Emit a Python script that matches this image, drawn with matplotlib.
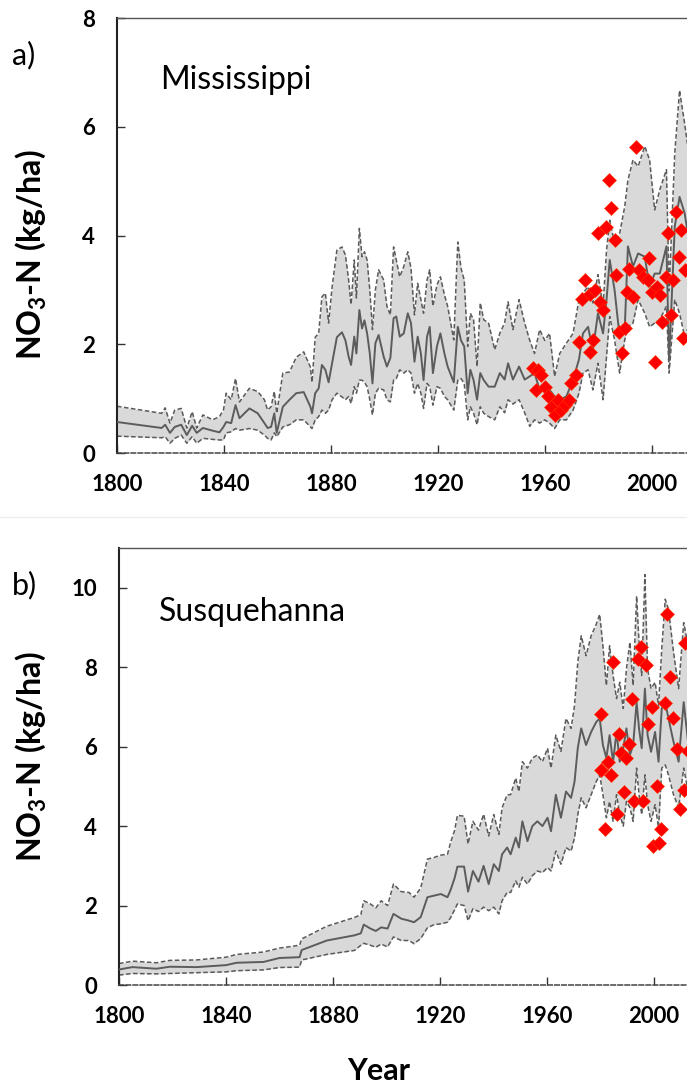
import matplotlib
matplotlib.use("Agg")
import matplotlib.pyplot as plt
from matplotlib.lines import Line2D

plt.rcParams['font.family'] = ['Lato', 'DejaVu Sans']
plt.rcParams['mathtext.fontset'] = 'custom'
plt.rcParams['mathtext.rm'] = 'Lato:bold'
plt.rcParams['mathtext.bf'] = 'Lato:bold'

W, H = 687, 1084

# a) Mississippi, modelled NO3-N (lower / mean / upper band)
miss_year = [1800, 1816.7, 1818, 1819.8, 1821.6, 1824, 1826.1, 1828.1, 1829.8, 1832.1,
             1835.8, 1838.3, 1839.8, 1840.8, 1842.7, 1844.3, 1845.8, 1849.5, 1852.6, 1855.1,
             1856.3, 1857.6, 1858.8, 1859.7, 1862, 1864.5, 1867, 1869.8, 1872.3, 1872.9,
             1874.1, 1875.4, 1876.6, 1877.9, 1879.1, 1880.4, 1882.2, 1884.1, 1885.4, 1886.6,
             1887.5, 1888.7, 1889.5, 1890.6, 1891.6, 1892.5, 1893.5, 1894.5, 1895.5, 1896.6,
             1897.8, 1899.7, 1900.9, 1902.2, 1903.4, 1904.4, 1905.7, 1907.2, 1908.7, 1909.9,
             1911.2, 1912.4, 1913.6, 1914.6, 1915.9, 1916.9, 1918.1, 1919.6, 1920.9, 1922.4,
             1923.6, 1925.9, 1927.4, 1928.6, 1929.8, 1931.1, 1932.1, 1933.3, 1934.6, 1935.8,
             1937.1, 1938.9, 1941.2, 1943.1, 1944.9, 1946.2, 1948, 1950.3, 1952.4, 1954.3,
             1956.1, 1958, 1959.9, 1961.7, 1963.6, 1965.5, 1968, 1970.5, 1972.7, 1974.2,
             1976.1, 1977.9, 1979.8, 1981.7, 1983, 1984.2, 1986, 1987.9, 1989.8, 1991,
             1992.9, 1994.8, 1997.3, 1999.1, 2001, 2002.9, 2005.4, 2006.4, 2008.5, 2010.3,
             2012.2, 2013.5]
miss_low = [0.31, 0.28, 0.30, 0.18, 0.27, 0.33, 0.18, 0.30, 0.18, 0.27,
            0.25, 0.24, 0.24, 0.37, 0.39, 0.45, 0.42, 0.45, 0.42, 0.33,
            0.27, 0.24, 0.37, 0.30, 0.48, 0.52, 0.61, 0.61, 0.48, 0.45,
            0.61, 0.67, 0.79, 0.73, 0.79, 0.98, 1.10, 1.03, 0.98, 1.04,
            0.91, 1.22, 1.10, 1.34, 1.34, 1.30, 1.22, 0.98, 0.70, 1.10,
            1.19, 1.16, 0.98, 0.94, 1.34, 1.37, 1.53, 1.47, 1.53, 1.47,
            1.10, 1.28, 1.10, 0.82, 1.28, 1.22, 0.88, 1.22, 1.19, 1.04,
            0.98, 0.79, 1.34, 1.37, 1.28, 0.61, 0.85, 0.73, 0.52, 0.85,
            0.73, 0.67, 0.61, 0.85, 0.74, 0.98, 0.90, 0.98, 0.74, 0.49,
            0.61, 0.55, 0.61, 0.55, 0.45, 0.61, 0.61, 0.79, 1.10, 1.47,
            1.53, 1.16, 1.65, 0.98, 1.77, 2.51, 2.08, 1.47, 2.08, 2.32,
            2.39, 2.82, 2.57, 2.32, 2.39, 2.45, 2.70, 1.47, 2.82, 2.57,
            2.14, 2.30]
miss_mean = [0.57, 0.46, 0.52, 0.37, 0.48, 0.52, 0.33, 0.50, 0.37, 0.46,
             0.41, 0.38, 0.48, 0.57, 0.55, 0.88, 0.64, 0.82, 0.73, 0.55,
             0.46, 0.48, 0.73, 0.37, 0.85, 0.98, 1.10, 1.12, 0.85, 0.73,
             1.10, 1.19, 1.62, 1.53, 1.30, 1.65, 2.13, 2.22, 2.07, 1.77,
             1.62, 2.14, 1.83, 2.63, 2.29, 2.44, 2.20, 1.83, 1.28, 2.02,
             2.17, 1.77, 1.59, 1.75, 2.48, 2.51, 2.14, 2.20, 2.57, 2.39,
             1.68, 2.14, 1.83, 1.34, 2.14, 2.32, 1.47, 1.96, 2.20, 1.83,
             1.59, 1.30, 2.32, 2.07, 1.96, 1.10, 1.53, 1.34, 0.98, 1.47,
             1.34, 1.22, 1.22, 1.47, 1.35, 1.65, 1.35, 1.59, 1.35, 1.41,
             1.47, 1.16, 1.28, 1.16, 1.04, 0.98, 1.04, 1.35, 1.72, 2.20,
             2.32, 1.89, 2.57, 2.20, 2.82, 3.55, 3.00, 2.14, 2.27, 3.80,
             3.43, 3.67, 3.61, 3.06, 3.30, 3.30, 3.80, 1.70, 4.16, 4.71,
             4.41, 4.00]
miss_up = [0.86, 0.73, 0.83, 0.55, 0.79, 0.82, 0.46, 0.76, 0.46, 0.70,
           0.61, 0.67, 0.79, 1.10, 0.98, 1.37, 0.94, 1.19, 1.13, 0.98,
           0.79, 0.85, 1.13, 0.73, 1.47, 1.49, 1.76, 1.86, 1.58, 1.30,
           2.13, 2.20, 2.87, 2.94, 2.39, 3.05, 3.73, 3.79, 3.64, 3.18,
           2.73, 3.55, 2.85, 4.13, 3.61, 3.70, 3.55, 3.00, 2.27, 3.00,
           3.37, 3.18, 2.70, 2.54, 3.79, 3.55, 3.24, 3.43, 3.70, 3.40,
           2.54, 3.12, 2.82, 2.57, 3.18, 3.37, 2.70, 3.09, 3.24, 2.91,
           2.70, 2.08, 3.88, 3.40, 3.18, 1.96, 2.57, 2.45, 1.59, 2.76,
           2.45, 2.39, 1.90, 2.20, 2.39, 2.78, 2.27, 2.82, 2.39, 2.07,
           1.83, 2.27, 2.07, 2.20, 1.41, 1.83, 2.02, 2.20, 2.82, 2.94,
           3.06, 2.76, 3.28, 2.70, 3.73, 4.28, 3.86, 4.04, 4.53, 5.02,
           5.39, 5.27, 5.64, 5.39, 4.47, 4.84, 5.21, 2.98, 5.51, 6.67,
           6.06, 5.60]
miss_obs_year = [1955.5, 1957.4, 1958.6, 1956.8, 1959.9, 1961.1, 1962.4, 1963.6, 1964.9, 1966.1,
                 1967.4, 1969.0, 1969.8, 1971.7, 1972.7, 1974.0, 1974.8, 1976.7, 1978.6, 1977.0,
                 1977.9, 1980.4, 1981.7, 1979.8, 1982.9, 1983.9, 1984.8, 1986.0, 1986.7, 1987.7,
                 1989.8, 1988.9, 1990.7, 1991.4, 1992.9, 1993.9, 1995.1, 1996.6, 1998.5, 1998.9,
                 2000.1, 2001.9, 2002.9, 2001.0, 2003.9, 2005.1, 2006.0, 2007.2, 2007.9, 2009.1,
                 2010.1, 2011.0, 2011.6, 2012.2]
miss_obs = [1.56, 1.53, 1.44, 1.16, 1.22, 1.04, 0.85, 0.70, 0.98, 0.79,
            0.88, 0.98, 1.28, 1.44, 2.05, 2.84, 3.18, 2.93, 2.99, 1.86,
            2.08, 2.78, 2.63, 4.04, 4.16, 5.02, 4.50, 3.92, 3.28, 2.23,
            2.29, 1.83, 2.96, 3.39, 2.87, 5.63, 3.36, 3.24, 3.18, 3.58,
            2.96, 3.05, 2.90, 1.68, 2.41, 3.24, 4.04, 2.53, 3.18, 4.43,
            3.61, 4.10, 2.11, 3.36]

# b) Susquehanna
susq_year = [1800, 1805, 1814, 1819, 1829, 1840, 1844, 1854, 1860, 1867.5,
             1868.3, 1877.7, 1888, 1890.4, 1891.5, 1894, 1896, 1898, 1900.4, 1902.6,
             1905.5, 1908.4, 1910.3, 1912.8, 1915.3, 1917.8, 1920.3, 1922.8, 1924, 1925.5,
             1926.5, 1929, 1930.5, 1932.3, 1934.4, 1936.3, 1938.2, 1940.1, 1942, 1943.2,
             1945.1, 1946.4, 1948.3, 1949.5, 1950.8, 1952.7, 1954.5, 1956.4, 1958.3, 1960.2,
             1961.5, 1963.3, 1965.2, 1967.1, 1969, 1970.3, 1971.5, 1972.8, 1974.6, 1976.5,
             1978.4, 1979.7, 1980.9, 1982.2, 1983.4, 1984.7, 1986, 1987.2, 1988.5, 1989.7,
             1991, 1992.2, 1993.5, 1994.4, 1995.4, 1996.6, 1997.6, 1998.9, 2000.4, 2001.7,
             2002.9, 2004.2, 2005.4, 2007.3, 2009.2, 2011.1, 2013]
susq_low = [0.25, 0.29, 0.28, 0.29, 0.31, 0.33, 0.36, 0.38, 0.44, 0.45,
            0.63, 0.77, 0.87, 1.00, 1.05, 1.00, 0.95, 1.03, 0.96, 1.21,
            1.12, 1.12, 1.04, 1.17, 1.44, 1.52, 1.54, 1.58, 1.70, 1.90,
            2.04, 2.00, 1.62, 1.92, 1.85, 1.96, 1.87, 1.96, 1.79, 2.12,
            2.33, 2.33, 2.62, 2.46, 2.71, 2.54, 2.75, 2.87, 2.83, 2.96,
            2.87, 3.37, 3.04, 3.46, 3.37, 3.71, 4.29, 4.71, 4.46, 4.79,
            5.12, 5.29, 4.79, 4.21, 4.62, 4.12, 4.79, 4.29, 4.00, 4.62,
            4.46, 4.12, 5.46, 4.79, 4.29, 5.29, 4.54, 4.12, 4.54, 3.96,
            5.46, 5.54, 5.29, 4.79, 4.46, 5.46, 4.79]
susq_mean = [0.39, 0.45, 0.41, 0.46, 0.45, 0.50, 0.56, 0.58, 0.68, 0.70,
             0.88, 1.12, 1.25, 1.30, 1.52, 1.42, 1.36, 1.45, 1.42, 1.79,
             1.67, 1.62, 1.58, 1.71, 2.21, 2.25, 2.29, 2.21, 2.40, 2.70,
             2.98, 2.98, 2.35, 2.87, 2.60, 3.00, 2.54, 3.04, 2.87, 3.29,
             3.46, 3.29, 3.71, 3.46, 4.12, 3.62, 4.00, 4.12, 4.00, 4.21,
             3.87, 4.79, 4.21, 4.87, 4.71, 5.12, 5.96, 6.46, 6.04, 6.37,
             6.62, 6.71, 6.04, 5.71, 6.29, 5.62, 6.37, 5.62, 5.96, 6.46,
             5.79, 6.04, 7.12, 6.46, 5.96, 7.46, 6.29, 5.87, 6.37, 5.62,
             6.96, 7.12, 6.71, 6.12, 5.62, 7.12, 5.96]
susq_up = [0.54, 0.60, 0.56, 0.62, 0.63, 0.70, 0.77, 0.83, 0.93, 1.00,
           1.16, 1.48, 1.70, 1.77, 2.12, 2.04, 1.94, 2.12, 2.00, 2.54,
           2.35, 2.33, 2.21, 2.44, 3.17, 3.21, 3.27, 3.29, 3.60, 3.90,
           4.27, 4.25, 3.55, 4.12, 3.90, 4.30, 3.75, 4.29, 3.79, 4.46,
           4.79, 4.79, 5.21, 4.87, 5.62, 5.46, 5.71, 5.79, 5.62, 5.96,
           5.46, 6.29, 5.88, 6.71, 6.46, 7.04, 8.12, 8.79, 8.29, 8.79,
           9.08, 9.33, 8.54, 7.54, 8.54, 7.79, 7.21, 7.62, 6.96, 7.96,
           8.63, 7.54, 9.79, 8.63, 7.79, 10.33, 7.96, 7.46, 7.62, 7.04,
           8.46, 9.71, 9.46, 8.38, 7.46, 9.12, 8.46]
susq_obs_year = [1980.1, 1980.3, 1981.6, 1982.8, 1983.8, 1984.7, 1986.0, 1986.8, 1987.8, 1988.8,
                 1989.7, 1990.7, 1991.9, 1992.6, 1993.9, 1995.1, 1996.0, 1996.9, 1997.9, 1999.1,
                 2001.3, 1999.8, 2001.7, 2002.7, 2004.2, 2005.0, 2006.1, 2007.1, 2008.6, 2009.8,
                 2011.1, 2011.7, 2012.7]
susq_obs = [6.81, 5.40, 3.92, 5.62, 5.29, 8.12, 4.31, 6.33, 5.83, 4.87,
            5.71, 6.06, 7.21, 4.62, 8.21, 8.50, 4.62, 8.06, 6.58, 6.99,
            5.02, 3.50, 3.58, 3.93, 7.10, 9.33, 7.75, 6.73, 5.94, 4.42,
            4.92, 8.62, 5.88]

years_ticks = [1800, 1840, 1880, 1920, 1960, 2000]
ylabel = r'NO$_\mathbf{3}$-N (kg/ha)'


def px_box(left, top, right, bottom):
    # pixel box -> figure fraction [l, b, w, h]
    return [left / W, 1 - bottom / H, (right - left) / W, (bottom - top) / H]


def draw_panel(ax, year, low, mean, up, obs_year, obs, ymax, yticks):
    ax.fill_between(year, low, up, color='#d9d9d9', lw=0, zorder=1)
    ax.plot(year, up, color='#5a5a5a', lw=1.1, dashes=(3, 1.6), zorder=2)
    ax.plot(year, low, color='#5a5a5a', lw=1.1, dashes=(3, 1.6), zorder=2)
    ax.plot(year, mean, color='#5c5c5c', lw=1.4, zorder=3)
    ax.plot(obs_year, obs, 'D', color='#ff0000', ms=6.8, mec='#ff3300',
            mew=0.4, zorder=5, clip_on=False)

    ax.set_xlim(1800, 2020)
    ax.set_ylim(0, ymax)
    ax.set_xticks(years_ticks)
    ax.set_yticks(yticks)
    ax.tick_params(direction='in', length=6, width=1, labelsize=16,
                   colors='#333333', labelcolor='black')
    ax.tick_params(axis='y', pad=16)
    ax.tick_params(axis='x', pad=15)
    for lbl in ax.get_xticklabels() + ax.get_yticklabels():
        lbl.set_fontweight('bold')

    ax.spines['left'].set_color('#222222')
    ax.spines['left'].set_linewidth(1.5)
    ax.spines['top'].set_color('#555555')
    ax.spines['top'].set_linewidth(1.0)
    ax.spines['bottom'].set_color('#444444')
    ax.spines['bottom'].set_linestyle((0, (3, 1.6)))
    ax.spines['bottom'].set_linewidth(1.1)
    ax.spines['right'].set_visible(False)


fig = plt.figure(figsize=(W / 100, H / 100), dpi=100)

# axes run past the right edge of the figure, as in the cropped original
ax_a = fig.add_axes(px_box(117, 18, 117 + 220 * 2.675, 453))
ax_b = fig.add_axes(px_box(119, 548, 119 + 220 * 2.675, 985))

draw_panel(ax_a, miss_year, miss_low, miss_mean, miss_up,
           miss_obs_year, miss_obs, 8, [0, 2, 4, 6, 8])
draw_panel(ax_b, susq_year, susq_low, susq_mean, susq_up,
           susq_obs_year, susq_obs, 11, [0, 2, 4, 6, 8, 10])

# panel letters and river names
fig.text(12 / W, 1 - 64 / H, 'a)', fontsize=22, va='baseline', ha='left')
fig.text(12 / W, 1 - 594 / H, 'b)', fontsize=22, va='baseline', ha='left')
fig.text(160 / W, 1 - 89 / H, 'Mississippi', fontsize=23, va='baseline', ha='left')
fig.text(159 / W, 1 - 621 / H, 'Susquehanna', fontsize=23, va='baseline', ha='left')

# y labels
fig.text(31 / W, 1 - 255 / H, ylabel, fontsize=23, fontweight='bold',
         rotation=90, va='center', ha='center')
fig.text(31 / W, 1 - 757 / H, ylabel, fontsize=23, fontweight='bold',
         rotation=90, va='center', ha='center')

fig.text(379 / W, 1 - 1080 / H, 'Year', fontsize=22, fontweight='bold',
         va='baseline', ha='center')

# faint separator between the two panels
fig.add_artist(Line2D([0, 1], [1 - 517 / H, 1 - 517 / H], transform=fig.transFigure,
                      color='#eeeeee', lw=1))

fig.savefig('out.png', dpi=100)
